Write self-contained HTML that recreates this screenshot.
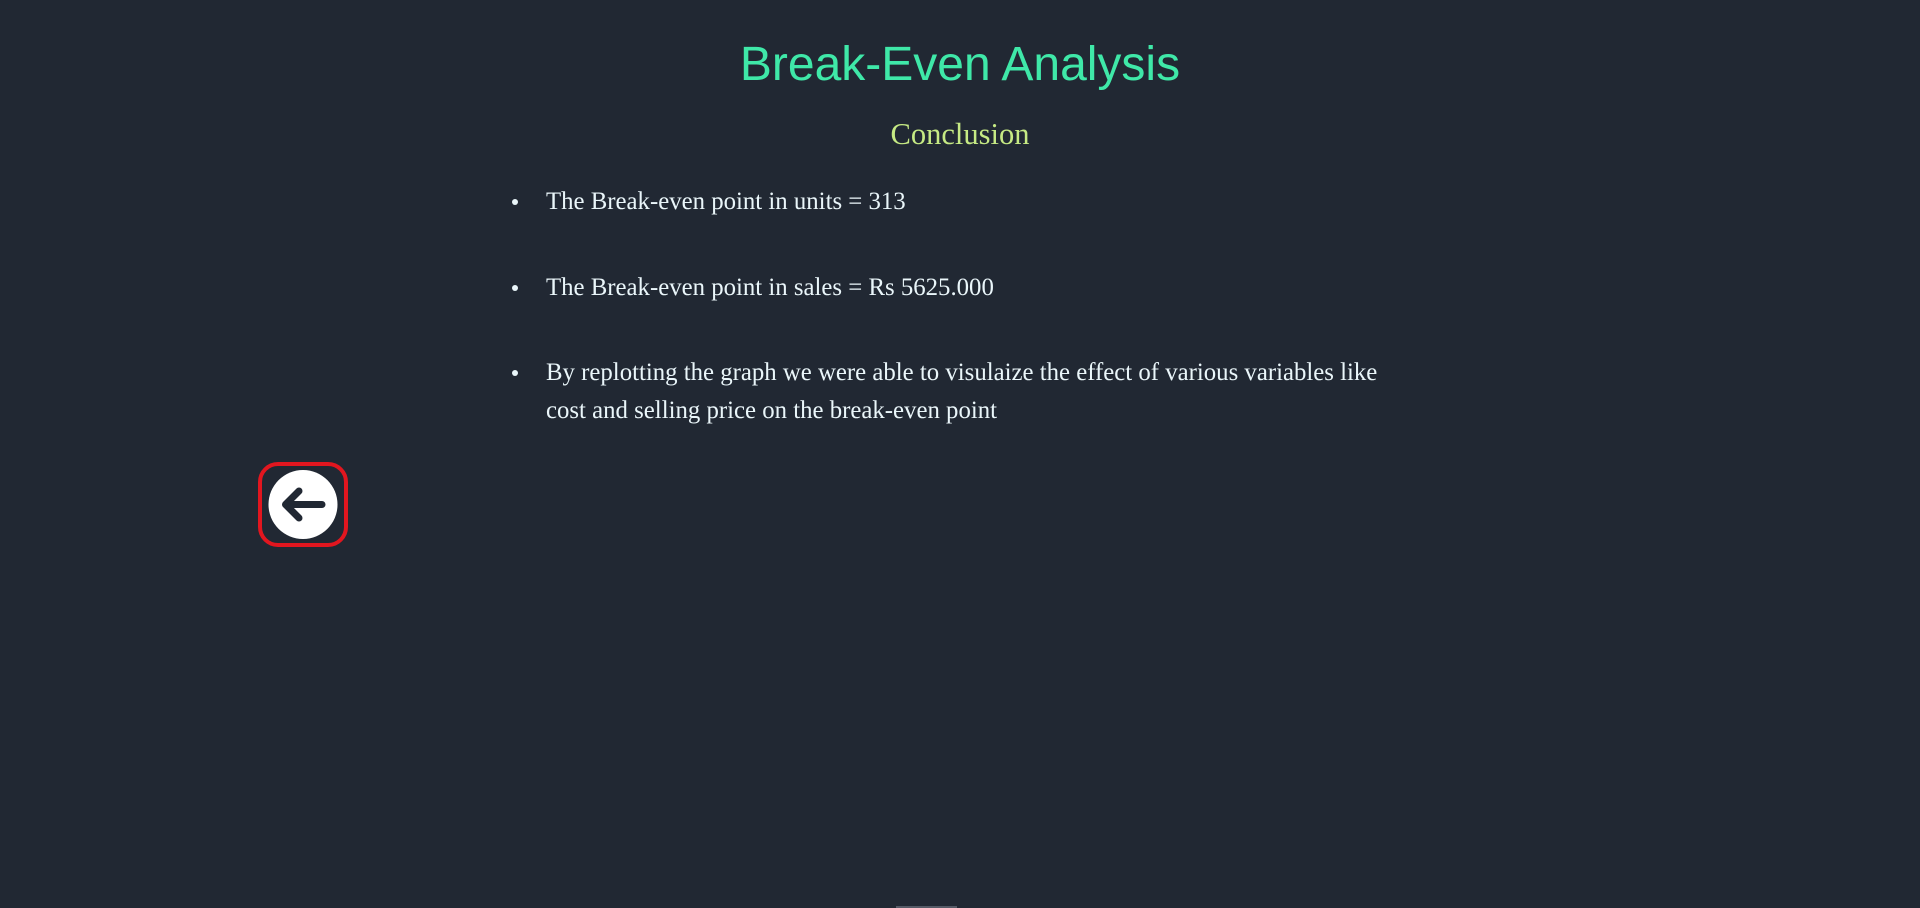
<!DOCTYPE html>
<html>
<head>
<meta charset="utf-8">
<style>
  html,body{margin:0;padding:0;}
  body{width:1920px;height:908px;background:#212833;position:relative;overflow:hidden;}
  .title{position:absolute;left:0;width:1920px;top:35px;text-align:center;font-family:"Liberation Sans",sans-serif;font-size:48px;color:#3fe8a8;line-height:60px;}
  .sub{position:absolute;left:0;width:1920px;top:114px;text-align:center;font-family:"Liberation Serif",serif;font-size:30.5px;color:#c6ea84;line-height:40px;}
  ul{position:absolute;left:546px;top:0;width:850px;margin:0;padding:0;list-style:none;font-family:"Liberation Serif",serif;font-size:24.8px;color:#eaf6fa;line-height:38px;}
  li{position:absolute;left:0;width:845px;}
  li::before{content:"";position:absolute;left:-34px;top:16px;width:6px;height:6px;border-radius:50%;background:#eaf6fa;}
  .back{position:absolute;left:258px;top:462px;width:82px;height:77px;border:4px solid #e2161f;border-radius:20px;}
  .bar{position:absolute;left:896px;top:906px;width:61px;height:2px;background:#555a66;}
</style>
</head>
<body>
<div class="title">Break-Even Analysis</div>
<div class="sub">Conclusion</div>
<ul>
  <li style="top:183px">The Break-even point in units = 313</li>
  <li style="top:269px">The Break-even point in sales = Rs 5625.000</li>
  <li style="top:354px">By replotting the graph we were able to visulaize the effect of various variables like cost and selling price on the break-even point</li>
</ul>
<div class="back">
  <svg width="82" height="77" viewBox="0 0 82 77">
    <circle cx="41" cy="38.5" r="34.5" fill="#ffffff"/>
    <path d="M60 38.5 H24 M37 25 L23.5 38.5 L37 52" stroke="#212833" stroke-width="7" stroke-linecap="round" stroke-linejoin="round" fill="none"/>
  </svg>
</div>
<div class="bar"></div>
</body>
</html>
